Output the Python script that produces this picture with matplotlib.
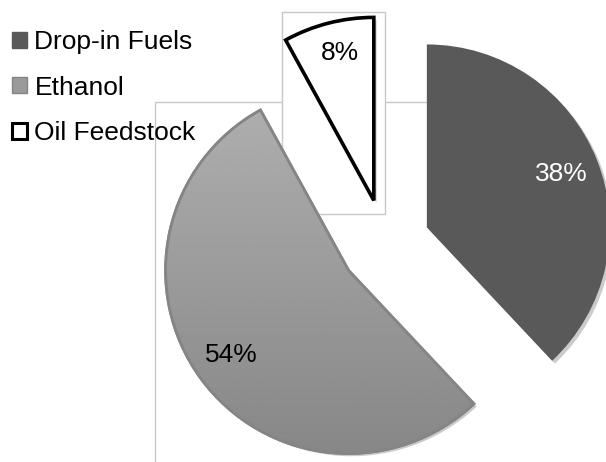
import numpy as np
import matplotlib
matplotlib.use("Agg")
import matplotlib.pyplot as plt
from matplotlib.patches import Patch, Wedge, Rectangle
import matplotlib.patheffects as pe

plt.rcParams['font.family'] = ['Liberation Sans', 'DejaVu Sans']

labels = ["Drop-in Fuels", "Ethanol", "Oil Feedstock"]
shares = [38, 54, 8]
colors = ["#595959", "#a0a0a0", "#ffffff"]
edges = ["#595959", "#858585", "#000000"]
edge_widths = [0.0, 2.0, 2.6]

W, H = 606, 462
fig = plt.figure(figsize=(W / 100, H / 100), dpi=100)
ax = fig.add_axes([0, 0, 1, 1])

# plot-area outline pieces that show behind the slices
ax.plot([155, 155, 282], [0, 360, 360], color="#c8c8c8", lw=1, zorder=1)
ax.plot([385, 428], [360, 360], color="#c8c8c8", lw=1, zorder=1)
ax.add_patch(Rectangle((282, 248), 103, 202, facecolor="white",
                       edgecolor="#c8c8c8", lw=1, zorder=1.5))

shadow = [pe.SimplePatchShadow(offset=(2, -2), shadow_rgbFace="#999999", alpha=0.5),
          pe.Normal()]

wedges, texts, pcts = ax.pie(
    shares, colors=colors, startangle=90, counterclock=False,
    explode=[45] * 3, center=(385, 218), radius=183,
    autopct="%d%%", pctdistance=0.79,
    wedgeprops=dict(zorder=2),
    textprops=dict(fontsize=19),
)

for w, ec, lw in zip(wedges, edges, edge_widths):
    w.set_edgecolor(ec)
    w.set_linewidth(lw)
    w.set_zorder(2)
    w.set_path_effects(shadow)

# vertical gradient on the Ethanol slice
eth = wedges[1]
grad = np.linspace(0.69, 0.53, 256).reshape(-1, 1)
cx, cy = eth.center
img = ax.imshow(grad, cmap="gray", vmin=0, vmax=1, aspect="auto",
                extent=(cx - eth.r, cx + eth.r, cy - eth.r, cy + eth.r),
                origin="upper", zorder=2.1)
img.set_clip_path(eth)
ax.add_patch(Wedge(eth.center, eth.r, eth.theta1, eth.theta2,
                   facecolor="none", edgecolor=edges[1], lw=edge_widths[1], zorder=2.2))

pcts[0].set_color("white")
pcts[1].set_color("black")
pcts[2].set_color("black")
for t in pcts:
    t.set_zorder(3)
pcts[2].set_position((340, 462 - 53))

ax.set_xlim(0, W)
ax.set_ylim(0, H)
ax.set_aspect("equal")
ax.axis("off")

handles = [Patch(facecolor=colors[0], edgecolor=colors[0]),
           Patch(facecolor="#9a9a9a", edgecolor="#858585", lw=1),
           Patch(facecolor="white", edgecolor="black", lw=2.2)]
fig.legend(handles, labels, loc="upper left", bbox_to_anchor=(12 / W, 1 - 30 / H),
           frameon=False, fontsize=19, handlelength=0.55, handleheight=0.55,
           handletextpad=0.3, labelspacing=0.82, borderaxespad=0, borderpad=0)

fig.savefig("out.png", dpi=100)
